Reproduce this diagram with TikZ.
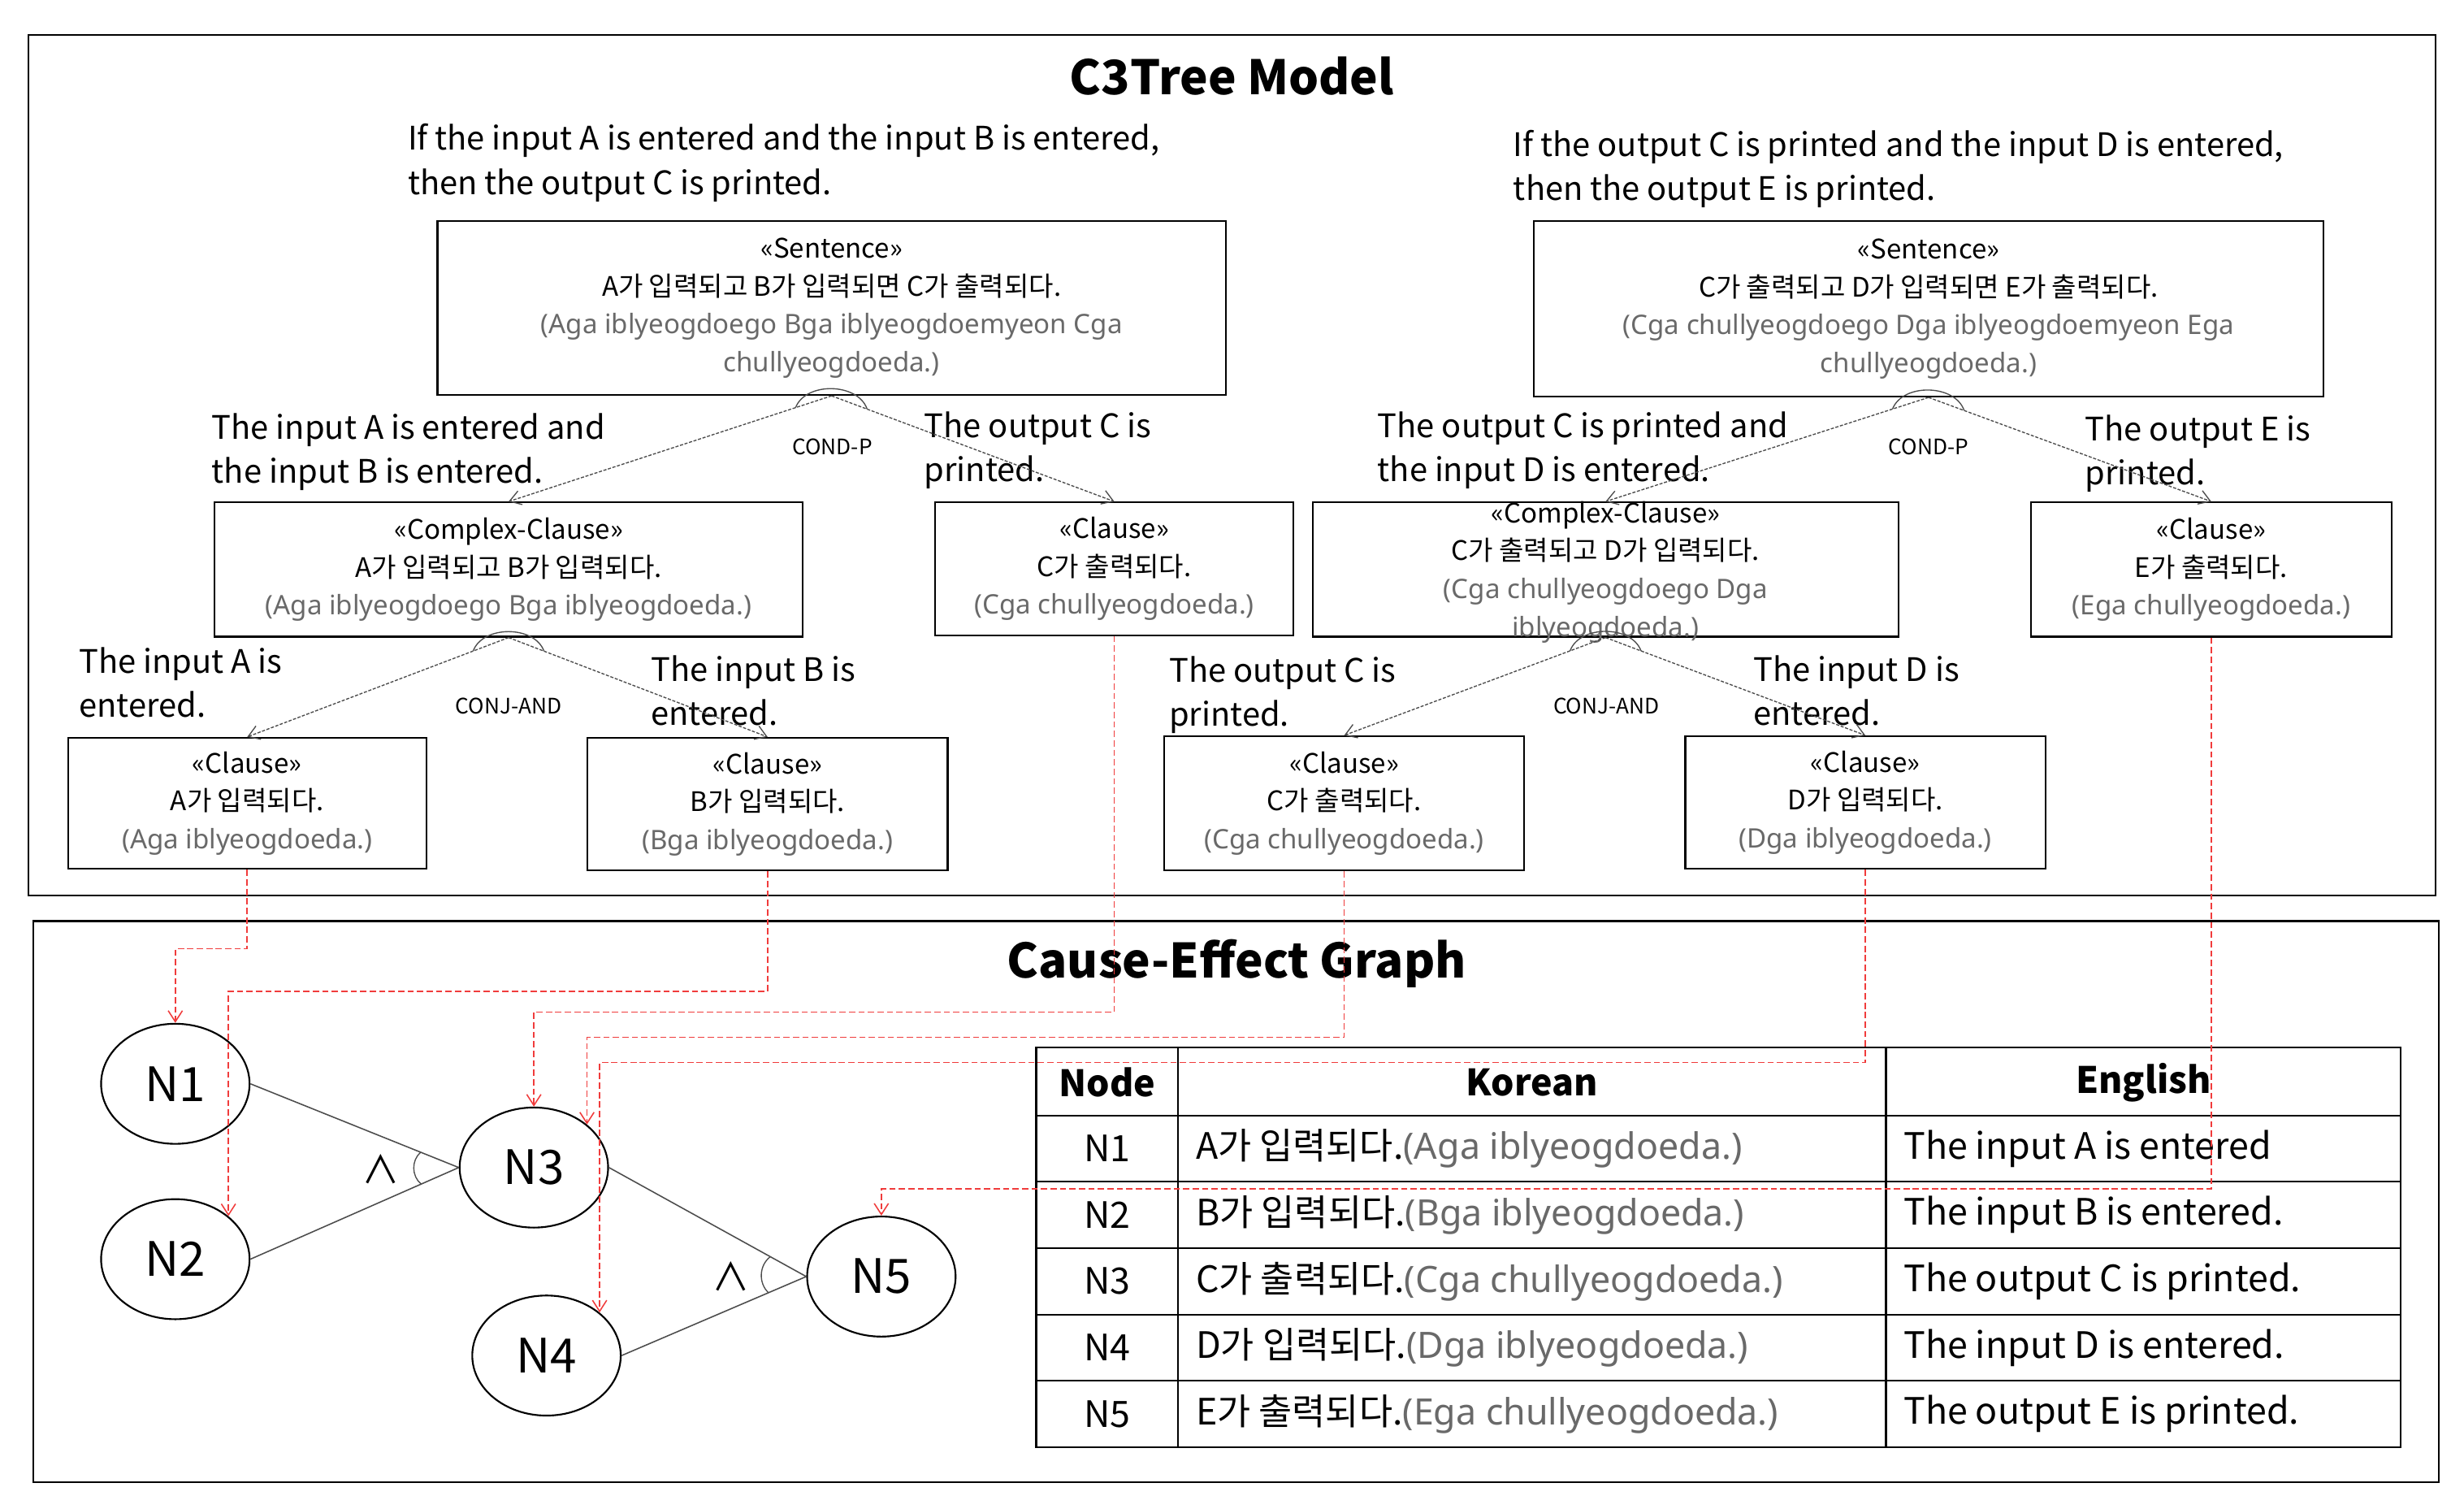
\documentclass[tikz,border=0pt]{standalone}
\usepackage{fontspec}
\setmainfont{Noto Sans CJK KR}
\newfontfamily\romf{Noto Sans}
\usetikzlibrary{arrows.meta,calc,shapes.geometric}
\definecolor{romgray}{RGB}{105,105,105}
\definecolor{wire}{RGB}{240,60,60}
\newcommand{\rom}[1]{{\romf\color{romgray}#1}}
\begin{document}
\begin{tikzpicture}[x=1pt,y=-1pt,
  box/.style={draw,line width=1.1pt,inner sep=0pt,align=center,font=\fontsize{17}{24}\selectfont},
  capt/.style={anchor=west,align=left,inner sep=0pt,font=\fontsize{20.5}{28}\selectfont},
  rel/.style={inner sep=0pt,font=\fontsize{13.5}{16}\selectfont},
  tedge/.style={draw=black!70,line width=0.7pt,dash pattern=on 2pt off 1pt,-{Straight Barb[length=7pt,width=9pt]}},
  garc/.style={draw=black!70,line width=0.7pt},
  gnode/.style={draw,ellipse,line width=1.1pt,minimum width=94pt,minimum height=76pt,inner sep=0pt,font=\fontsize{30}{30}\selectfont},
  gedge/.style={draw=black!70,line width=0.8pt},
  wire/.style={draw=wire,line width=0.8pt,dash pattern=on 4pt off 2pt,-{Straight Barb[length=7pt,width=9pt]}},
  tcell/.style={inner sep=0pt,font=\fontsize{23}{26}\selectfont},
]
\useasboundingbox (0,0) rectangle (1560,955);
% frames
\node[draw,line width=1.1pt,minimum width=1524pt,minimum height=545pt,inner sep=0pt] (f1) at (780,294.5) {};
\node[draw,line width=1.1pt,minimum width=1523pt,minimum height=355pt,inner sep=0pt] (f2) at (782.5,760.5) {};
\node[font=\fontsize{30}{30}\selectfont\bfseries] (t1) at (780,48) {C3Tree Model};
\node[font=\fontsize{30}{30}\selectfont\bfseries] (t2) at (783,610) {Cause-Effect Graph};

% tree boxes
\node[box,minimum width=499pt,minimum height=110pt] (s1) at (526.5,195) {<<Sentence>>\\A가 입력되고 B가 입력되면 C가 출력되다.\\\rom{(Aga iblyeogdoego Bga iblyeogdoemyeon Cga}\\\rom{chullyeogdoeda.)}};
\node[box,minimum width=500pt,minimum height=111pt] (s2) at (1221,195.5) {<<Sentence>>\\C가 출력되고 D가 입력되면 E가 출력되다.\\\rom{(Cga chullyeogdoego Dga iblyeogdoemyeon Ega}\\\rom{chullyeogdoeda.)}};
\node[box,minimum width=372pt,minimum height=85pt] (k1) at (322,360.5) {<<Complex-Clause>>\\A가 입력되고 B가 입력되다.\\\rom{(Aga iblyeogdoego Bga iblyeogdoeda.)}};
\node[box,minimum width=227pt,minimum height=84pt] (cc1) at (705.5,360) {<<Clause>>\\C가 출력되다.\\\rom{(Cga chullyeogdoeda.)}};
\node[box,minimum width=371pt,minimum height=85pt] (k2) at (1016.5,360.5) {};
\node[align=center,inner sep=0pt,font=\fontsize{17}{24}\selectfont] (k2t) at (1016.5,362) {<<Complex-Clause>>\\C가 출력되고 D가 입력되다.\\\rom{(Cga chullyeogdoego Dga}\\\rom{iblyeogdoeda.)}};
\node[box,minimum width=228pt,minimum height=85pt] (ce) at (1400,360.5) {<<Clause>>\\E가 출력되다.\\\rom{(Ega chullyeogdoeda.)}};
\node[box,minimum width=227pt,minimum height=83pt] (ca) at (156.5,508.5) {<<Clause>>\\A가 입력되다.\\\rom{(Aga iblyeogdoeda.)}};
\node[box,minimum width=228pt,minimum height=84pt] (cb) at (486,509) {<<Clause>>\\B가 입력되다.\\\rom{(Bga iblyeogdoeda.)}};
\node[box,minimum width=228pt,minimum height=85pt] (cc2) at (851,508.5) {<<Clause>>\\C가 출력되다.\\\rom{(Cga chullyeogdoeda.)}};
\node[box,minimum width=228pt,minimum height=84pt] (cd) at (1181,508) {<<Clause>>\\D가 입력되다.\\\rom{(Dga iblyeogdoeda.)}};

% captions
\node[capt] (q1) at (258,103) {If the input A is entered and the input B is entered,\\then the output C is printed.};
\node[capt] (q2) at (958,107) {If the output C is printed and the input D is entered,\\then the output E is printed.};
\node[capt] (l1) at (134,286) {The input A is entered and\\the input B is entered.};
\node[capt] (l2) at (585,285) {The output C is\\printed.};
\node[capt] (l3) at (872,285) {The output C is printed and\\the input D is entered.};
\node[capt] (l4) at (1320,287) {The output E is\\printed.};
\node[capt] (l5) at (50,432) {The input A is\\entered.};
\node[capt] (l6) at (412,437) {The input B is\\entered.};
\node[capt] (l7) at (740,440) {The output C is\\printed.};
\node[capt] (l8) at (1110,437) {The input D is\\entered.};
\node[rel] (r1) at (527,283) {COND-P};
\node[rel] (r2) at (1221,283) {COND-P};
\node[rel] (r3) at (322,447) {CONJ-AND};
\node[rel] (r4) at (1017,447) {CONJ-AND};

% tree edges
\draw[tedge] (s1.south) -- (k1.north);
\draw[tedge] (s1.south) -- (cc1.north);
\draw[tedge] (s2.south) -- (k2.north);
\draw[tedge] (s2.south) -- (ce.north);
\draw[tedge] (k1.south) -- (ca.north);
\draw[tedge] (k1.south) -- (cb.north);
\draw[tedge] (k2.south) -- (cc2.north);
\draw[tedge] (k2.south) -- (cd.north);
\draw[garc] ($(s1.south)!24pt!(k1.north)$) to[bend left=70] ($(s1.south)!24pt!(cc1.north)$);
\draw[garc] ($(s2.south)!24pt!(k2.north)$) to[bend left=70] ($(s2.south)!24pt!(ce.north)$);
\draw[garc] ($(k1.south)!24pt!(ca.north)$) to[bend left=70] ($(k1.south)!24pt!(cb.north)$);
\draw[garc] ($(k2.south)!24pt!(cc2.north)$) to[bend left=70] ($(k2.south)!24pt!(cd.north)$);

% graph
\node[gnode] (n1) at (111,686) {N1};
\node[gnode] (n2) at (111,797) {N2};
\node[gnode] (n3) at (338,739) {N3};
\node[gnode] (n4) at (346,858) {N4};
\node[gnode] (n5) at (558,808) {N5};
\draw[gedge] (n1.east) -- (n3.west);
\draw[gedge] (n2.east) -- (n3.west);
\draw[gedge] (n3.east) -- (n5.west);
\draw[gedge] (n4.east) -- (n5.west);
\draw[garc] ($(n3.west)!26pt!(n1.east)$) to[bend right=50] ($(n3.west)!26pt!(n2.east)$);
\draw[garc] ($(n5.west)!26pt!(n3.east)$) to[bend right=50] ($(n5.west)!26pt!(n4.east)$);
\node[font=\fontsize{24}{24}\selectfont] (and1) at (241,740) {∧};
\node[font=\fontsize{24}{24}\selectfont] (and2) at (463,808) {∧};

% table
\coordinate (tl) at (656,663); \coordinate (br) at (1520,916);
\draw[line width=1.1pt] (tl) rectangle (br);
\foreach \y in {706,748,790,832,874} \draw[line width=1.1pt] (656,\y) -- (1520,\y);
\foreach \x in {746,1194} \draw[line width=1.1pt] (\x,663) -- (\x,916);
\node[tcell,font=\fontsize{23}{26}\selectfont\bfseries] (h1) at (701,685) {Node};
\node[tcell,font=\fontsize{23}{26}\selectfont\bfseries] (h2) at (970,685) {Korean};
\node[tcell,font=\fontsize{23}{26}\selectfont\bfseries] (h3) at (1357,685) {English};
\foreach \i/\y/\k/\r/\e in {1/727/A가 입력되다./(Aga iblyeogdoeda.)/The input A is entered,
  2/769/B가 입력되다./(Bga iblyeogdoeda.)/The input B is entered.,
  3/811/C가 출력되다./(Cga chullyeogdoeda.)/The output C is printed.,
  4/853/D가 입력되다./(Dga iblyeogdoeda.)/The input D is entered.,
  5/895/E가 출력되다./(Ega chullyeogdoeda.)/The output E is printed.}{
  \node[tcell] (tn\i) at (701,\y) {N\i};
  \node[tcell,anchor=west] (tk\i) at (757,\y) {\k\rom{\r}};
  \node[tcell,anchor=west] (te\i) at (1205,\y) {\e};
}

% wiring
\draw[wire] (ca.south) -- ++(0,50) -| (n1.north);
\draw[wire] (cb.south) -- ++(0,76) -| (n2.north east);
\draw[wire] (cc1.south) -- ++(0,238) -| (n3.north);
\draw[wire] (cc2.south) -- ++(0,105) -| (n3.north east);
\draw[wire] (cd.south) -- ++(0,122) -| (n4.north east);
\draw[wire] (ce.south) -- ++(0,349) -| (n5.north);
\end{tikzpicture}
\end{document}
